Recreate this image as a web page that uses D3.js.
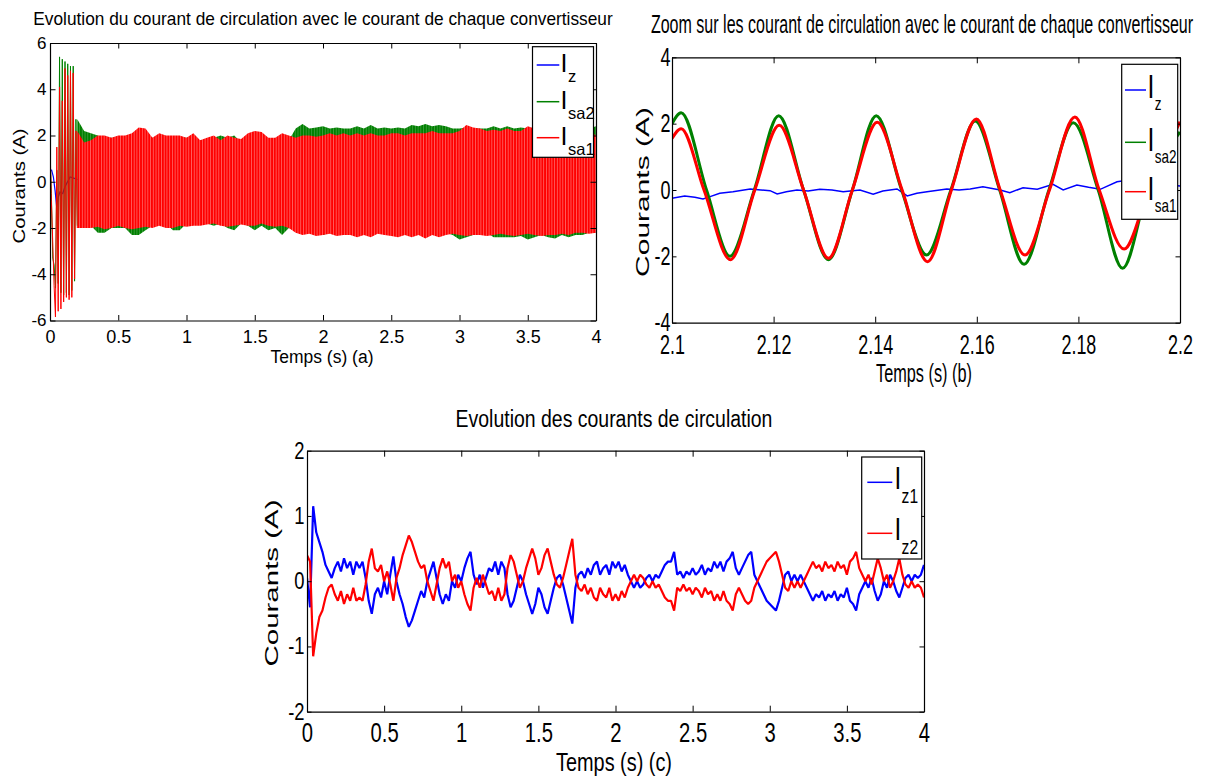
<!DOCTYPE html>
<html>
<head>
<meta charset="utf-8">
<script src="https://cdn.jsdelivr.net/npm/d3@7"></script>
<style>
  body { margin: 0; background: #fff; }
  svg text { font-family: "Liberation Sans", Arial, Helvetica, sans-serif; fill: #000; }
</style>
</head>
<body>
<script>
// ---------- panel (a) : full run, 0..4 s ----------
var aXTicks = [0, 0.5, 1, 1.5, 2, 2.5, 3, 3.5, 4];
var aYTicks = [-6, -4, -2, 0, 2, 4, 6];

// Iz (blue), mostly hidden behind the converter currents
var aIzT = [0, 0.012, 0.025, 0.037, 0.049, 0.061, 0.073, 0.093, 0.11, 0.122, 0.147, 0.2, 0.5, 1, 1.5, 2, 2.5, 3, 3.5, 4];
var aIzV = [0.45, 0.5, 0.2, -0.37, -1.09, -0.66, -0.44, -0.51, -0.22, -0.08, 0.21, 0.1, 0.05, 0, -0.05, 0, 0.05, 0, 0.1, 0.1];

// start-up transient, half-cycle extremes
var aTransT   = [0, 0.01, 0.02, 0.03, 0.04, 0.05, 0.06, 0.07, 0.08, 0.09, 0.1, 0.11, 0.12, 0.13, 0.14, 0.15, 0.16, 0.17, 0.18, 0.19, 0.2];
var aTransSa2 = [1.2, -0.5, -3.3, -3.6, -4.6, 0.5, -4.4, 5.4, -4.8, 5.3, -4.9, 5.2, -4.8, 5.1, -4.9, 5.0, -4.7, 5.0, -4.3, 2.7, -1.9];
var aTransSa1 = [1.6, -0.8, -2.6, -4.5, -5.85, 1.5, -5.6, 4.1, -5.5, 3.5, -5.2, 4.9, -5.0, 4.6, -5.1, 4.8, -5.0, 4.7, -4.2, 2.2, -2.0];

// steady state: envelope of the 50 Hz band, one value every 0.05 s from 0.2 s
var aEnvT = d3.range(77).map(function(i) { return +(0.2 + i * 0.05).toFixed(2); });
var aSa2Hi = [2.7, 2.2, 2.1, 2.0, 1.9, 1.9, 1.9, 1.8, 1.9, 1.8,
              1.8, 1.9, 1.9, 1.8, 1.9, 1.9, 1.9, 1.9, 1.8, 1.8,
              1.9, 2.0, 1.9, 2.0, 1.7, 1.8, 1.8, 1.8, 1.8, 1.8,
              1.9, 1.8, 2.3, 2.5, 2.3, 2.35, 2.4, 2.3, 2.35, 2.3,
              2.3, 2.4, 2.3, 2.45, 2.3, 2.35, 2.3, 2.35, 2.3, 2.45,
              2.4, 2.5, 2.4, 2.45, 2.4, 2.3, 2.3, 2.35, 2.3, 2.3,
              2.3, 2.4, 2.3, 2.4, 2.3, 2.35, 2.3, 2.35, 2.3, 2.35,
              2.3, 2.3, 2.3, 2.3, 2.3, 2.3, 2.4];
var aSa2Lo = [-1.9, -1.8, -1.9, -2.2, -2.2, -2.0, -2.0, -2.0, -2.3, -2.3,
              -2.1, -1.9, -1.8, -1.8, -2.1, -2.1, -1.8, -1.8, -1.7, -1.8,
              -1.9, -1.8, -2.0, -2.1, -1.8, -1.9, -2.1, -1.9, -2.1, -2.0,
              -2.3, -2.0, -2.1, -2.2, -2.2, -2.2, -2.3, -2.2, -2.3, -2.2,
              -2.3, -2.2, -2.2, -2.3, -2.2, -2.2, -2.2, -2.3, -2.2, -2.3,
              -2.2, -2.3, -2.2, -2.3, -2.2, -2.3, -2.5, -2.4, -2.3, -2.2,
              -2.2, -2.4, -2.4, -2.4, -2.4, -2.35, -2.5, -2.4, -2.3, -2.4,
              -2.45, -2.3, -2.4, -2.3, -2.3, -2.2, -2.2];
var aSa1Hi = [2.2, 1.7, 1.8, 2.0, 2.0, 1.9, 2.0, 2.0, 2.1, 2.35,
              2.3, 1.9, 2.1, 2.0, 2.0, 2.0, 1.9, 2.1, 1.8, 1.9,
              2.0, 1.8, 2.0, 1.9, 1.85, 2.1, 2.2, 2.15, 1.9, 1.9,
              2.1, 2.0, 1.9, 2.0, 2.0, 1.95, 2.0, 2.1, 2.0, 2.1,
              2.0, 2.1, 2.0, 2.1, 2.0, 2.0, 2.1, 2.1, 2.0, 2.1,
              2.1, 2.1, 2.2, 2.1, 2.1, 2.1, 2.2, 2.45, 2.35, 2.3,
              2.2, 2.25, 2.2, 2.3, 2.2, 2.2, 2.4, 2.3, 2.3, 2.2,
              2.3, 2.3, 2.2, 2.3, 2.2, 2.2, 2.0];
var aSa1Lo = [-2.0, -2.0, -2.0, -1.95, -2.05, -2.0, -1.9, -2.0, -2.05, -2.0,
              -1.95, -2.0, -1.9, -2.0, -2.0, -1.9, -1.95, -1.9, -1.9, -1.85,
              -1.8, -1.9, -1.95, -1.9, -1.85, -1.9, -1.9, -1.8, -1.9, -1.95,
              -1.9, -2.0, -2.2, -2.3, -2.25, -2.35, -2.3, -2.25, -2.35, -2.3,
              -2.3, -2.4, -2.3, -2.4, -2.25, -2.3, -2.35, -2.4, -2.3, -2.4,
              -2.3, -2.45, -2.3, -2.4, -2.3, -2.25, -2.3, -2.35, -2.3, -2.3,
              -2.35, -2.3, -2.25, -2.3, -2.35, -2.3, -2.25, -2.3, -2.35, -2.3,
              -2.3, -2.25, -2.3, -2.2, -2.2, -2.25, -2.2];

// ---------- panel (b) : zoom 2.1..2.2 s ----------
var bXTicks = [2.1, 2.12, 2.14, 2.16, 2.18, 2.2];
var bYTicks = [-4, -2, 0, 2, 4];
var bIzT = [2.1, 2.1025, 2.1045, 2.1061, 2.1075, 2.1094, 2.112, 2.1154, 2.1175, 2.1193,
            2.1207, 2.1225, 2.1246, 2.1268, 2.1291, 2.1315, 2.1337, 2.137, 2.1396, 2.1415,
            2.1443, 2.1463, 2.1482, 2.1502, 2.1541, 2.1565, 2.1587, 2.1612, 2.1646, 2.1665,
            2.1691, 2.1719, 2.175, 2.177, 2.1797, 2.182, 2.1843, 2.1876, 2.19, 2.195, 2.2];
var bIzV = [-0.25, -0.18, -0.22, -0.27, -0.2, -0.1, -0.05, 0.03, 0.0, -0.02,
            -0.12, -0.05, 0.0, -0.03, 0.02, 0.0, -0.05, 0.0, -0.13, -0.03,
            0.03, -0.18, -0.1, -0.05, 0.03, 0.0, 0.03, 0.1, 0.0, -0.08,
            0.07, 0.02, 0.17, 0.0, 0.15, 0.08, 0.02, 0.25, 0.3, 0.2, 0.12];
// peaks, troughs and zero crossings
var bSa2T = [2.1, 2.1018, 2.1068, 2.1114, 2.1162, 2.121, 2.1259, 2.1308, 2.1355, 2.1402, 2.1452,
             2.1501, 2.1549, 2.1597, 2.1645, 2.1693, 2.1742, 2.179, 2.1839, 2.1887, 2.1936, 2.2];
var bSa2V = [2.0, 2.33, 0, -2.0, 0, 2.24, 0, -2.1, 0, 2.24, 0,
             -1.96, 0, 2.08, 0, -2.24, 0, 2.03, 0, -2.36, 0, 1.75];
var bSa1T = [2.1, 2.1018, 2.1063, 2.1115, 2.1163, 2.1211, 2.1259, 2.1308, 2.1355, 2.1404, 2.1453,
             2.1503, 2.155, 2.1599, 2.1646, 2.1695, 2.1743, 2.1793, 2.1841, 2.189, 2.1938, 2.2];
var bSa1V = [1.55, 1.85, 0, -2.1, 0, 1.95, 0, -2.06, 0, 2.04, 0,
             -2.16, 0, 2.14, 0, -1.96, 0, 2.2, 0, -1.78, 0, 2.06];

// ---------- panel (c) : circulating currents, sampled every 0.02 s ----------
var cXTicks = [0, 0.5, 1, 1.5, 2, 2.5, 3, 3.5, 4];
var cYTicks = [-2, -1, 0, 1, 2];
var cT = d3.range(201).map(function(i) { return +(i * 0.02).toFixed(2); });
var cIz1 = [0.05, -0.4, 1.15, 0.75, 0.6, 0.45, 0.25, 0.15, 0.05, 0.2,
            0.3, 0.15, 0.35, 0.2, 0.3, 0.1, 0.3, 0.2, 0.3, 0.05,
            -0.3, -0.5, -0.2, -0.1, -0.25, 0.0, -0.2, 0.1, 0.38, 0.0,
            -0.2, -0.35, -0.55, -0.7, -0.6, -0.45, -0.3, -0.15, -0.25, 0.0,
            0.15, 0.3, 0.05, -0.2, -0.35, -0.2, -0.3, 0.0, -0.1, 0.1,
            0.0, 0.2, 0.35, 0.45, 0.1, -0.05, 0.1, -0.1, 0.05, 0.2,
            0.15, 0.3, 0.1, 0.3, 0.2, -0.2, -0.4, -0.3, -0.1, 0.1,
            0.0, -0.2, -0.35, -0.5, -0.35, -0.1, -0.2, -0.4, -0.5, -0.3,
            -0.1, 0.05, 0.1, -0.05, -0.25, -0.45, -0.65, -0.1, 0.1, 0.15,
            0.05, 0.2, 0.1, 0.25, 0.3, 0.1, 0.2, 0.25, 0.1, 0.3,
            0.2, 0.3, 0.15, 0.25, 0.1, 0.0, -0.1, 0.0, -0.1, -0.05,
            0.05, 0.1, 0.0, 0.1, 0.05, 0.15, 0.25, 0.3, 0.3, 0.45,
            0.1, 0.15, 0.05, 0.15, 0.1, 0.2, 0.1, 0.15, 0.25, 0.1,
            0.2, 0.15, 0.3, 0.2, 0.3, 0.15, 0.3, 0.35, 0.45, 0.2,
            0.1, 0.2, 0.3, 0.4, 0.45, 0.1, 0.0, -0.1, -0.2, -0.3,
            -0.35, -0.4, -0.45, -0.3, -0.1, 0.1, 0.15, 0.0, 0.1, 0.0,
            0.1, 0.0, -0.1, -0.2, -0.3, -0.2, -0.25, -0.15, -0.3, -0.2,
            -0.25, -0.15, -0.3, -0.2, -0.25, -0.1, -0.3, -0.35, -0.45, -0.2,
            -0.1, 0.0, -0.1, 0.05, -0.15, -0.3, -0.2, 0.0, -0.1, 0.1,
            0.0, -0.15, -0.25, -0.1, 0.05, 0.1, 0.0, 0.1, 0.05, 0.1,
            0.25];
var cIz2 = [0.4, 0.3, -1.15, -0.8, -0.55, -0.45, -0.25, -0.1, -0.05, -0.2,
            -0.3, -0.15, -0.35, -0.2, -0.3, -0.1, -0.3, -0.25, -0.3, -0.05,
            0.3, 0.5, 0.2, 0.15, 0.25, 0.0, 0.15, -0.05, -0.3, 0.05,
            0.2, 0.4, 0.55, 0.7, 0.6, 0.45, 0.3, 0.2, 0.25, 0.0,
            -0.15, -0.3, -0.05, 0.2, 0.35, 0.2, 0.3, 0.0, 0.1, -0.1,
            0.0, -0.2, -0.35, -0.45, -0.1, 0.05, -0.1, 0.1, -0.05, -0.2,
            -0.15, -0.3, -0.1, -0.3, -0.2, 0.2, 0.4, 0.3, 0.1, -0.1,
            0.0, 0.2, 0.35, 0.5, 0.35, 0.1, 0.2, 0.4, 0.5, 0.3,
            0.1, -0.05, -0.1, 0.05, 0.25, 0.45, 0.65, 0.1, -0.1, -0.15,
            -0.05, -0.2, -0.1, -0.25, -0.3, -0.1, -0.2, -0.25, -0.1, -0.3,
            -0.2, -0.3, -0.15, -0.25, -0.1, 0.0, 0.1, 0.0, 0.1, 0.05,
            -0.05, -0.1, 0.0, -0.1, -0.05, -0.15, -0.25, -0.3, -0.3, -0.45,
            -0.1, -0.15, -0.05, -0.15, -0.1, -0.2, -0.1, -0.15, -0.25, -0.1,
            -0.2, -0.15, -0.3, -0.2, -0.3, -0.15, -0.3, -0.35, -0.45, -0.2,
            -0.1, -0.2, -0.3, -0.35, -0.3, -0.1, 0.0, 0.1, 0.2, 0.3,
            0.35, 0.4, 0.45, 0.3, 0.1, -0.1, -0.15, 0.0, -0.1, 0.0,
            -0.1, 0.0, 0.1, 0.2, 0.3, 0.2, 0.25, 0.15, 0.3, 0.2,
            0.25, 0.15, 0.3, 0.2, 0.25, 0.1, 0.3, 0.35, 0.45, 0.2,
            0.1, 0.0, 0.1, -0.05, 0.15, 0.35, 0.2, 0.0, 0.1, -0.1,
            0.0, 0.15, 0.35, 0.1, -0.05, -0.1, 0.0, -0.1, -0.05, -0.1,
            -0.25];

var BLUE = "#0000ff", GREEN = "#008000", RED = "#ff0000";

var svg = d3.select("body").append("svg")
    .attr("width", 1207)
    .attr("height", 780);
var defs = svg.append("defs");

function zip(ts, vs) { return ts.map(function(t, i) { return [t, vs[i]]; }); }

// centred text, squeezed/stretched along its run to the width seen in the figure
function label(parent, str, x, y, o) {
  var t = parent.append("text")
      .attr("font-size", o.size)
      .attr("text-anchor", "middle")
      .text(str);
  var k = o.len / t.node().getComputedTextLength();
  t.attr("transform", "translate(" + x + "," + y + ")" + (o.rotate ? " rotate(-90)" : "") +
         " scale(" + k.toFixed(3) + ",1)");
  return t;
}

// a matlab-like box with ticks inside on all four sides
function panel(o) {
  var g = svg.append("g").attr("transform", "translate(" + o.left + "," + o.top + ")");
  var x = d3.scaleLinear().domain(o.xDomain).range([0, o.w]);
  var y = d3.scaleLinear().domain(o.yDomain).range([o.h, 0]);
  var fmt = function(d) { return String(d); };

  defs.append("clipPath").attr("id", o.id + "-clip")
    .append("rect").attr("width", o.w).attr("height", o.h);
  var plot = g.append("g").attr("clip-path", "url(#" + o.id + "-clip)");

  var bottom = g.append("g").attr("transform", "translate(0," + o.h + ")")
      .call(d3.axisBottom(x).tickValues(o.xTicks).tickFormat(fmt)
        .tickSizeInner(-o.xTick).tickSizeOuter(0).tickPadding(o.xPad));
  var left = g.append("g")
      .call(d3.axisLeft(y).tickValues(o.yTicks).tickFormat(fmt)
        .tickSizeInner(-o.yTick).tickSizeOuter(0).tickPadding(o.yPad / o.ySx));
  var top = g.append("g")
      .call(d3.axisTop(x).tickValues(o.xTicks).tickFormat("")
        .tickSizeInner(-o.xTick).tickSizeOuter(0));
  var right = g.append("g").attr("transform", "translate(" + o.w + ",0)")
      .call(d3.axisRight(y).tickValues(o.yTicks).tickFormat("")
        .tickSizeInner(-o.yTick).tickSizeOuter(0));

  [bottom, left, top, right].forEach(function(a) {
    a.attr("font-family", null).attr("font-size", null);
    a.selectAll("path.domain").attr("stroke", "#000").attr("stroke-width", 1.2);
    a.selectAll("line").attr("stroke", "#000").attr("stroke-width", 1);
  });
  bottom.selectAll("text").attr("font-size", o.xFont).attr("fill", "#000")
      .attr("transform", "scale(" + o.xSx + ",1)");
  left.selectAll("text").attr("font-size", o.yFont).attr("fill", "#000")
      .attr("transform", "scale(" + o.ySx + ",1)");

  return { g: g, plot: plot, x: x, y: y };
}

// legend entries are "I" with a smaller subscript, in one text element
function legend(o) {
  var lg = svg.append("g");
  lg.append("rect")
      .attr("x", o.x).attr("y", o.y).attr("width", o.w).attr("height", o.h)
      .attr("fill", "#fff").attr("stroke", "#000").attr("stroke-width", 1.2);
  o.items.forEach(function(it, i) {
    var ly = o.rows[i];
    lg.append("line")
        .attr("x1", o.lx1).attr("x2", o.lx2).attr("y1", ly).attr("y2", ly)
        .attr("stroke", it.color).attr("stroke-width", 1.5);
    var t = lg.append("text")
        .attr("transform", "translate(" + o.ix + "," + (ly + o.iDy) + ") scale(" + o.sx + ",1)");
    t.append("tspan").attr("font-size", o.iSize).text("I");
    t.append("tspan").attr("font-size", o.sSize)
        .attr("dx", o.sDx).attr("dy", o.sDy).text(it.sub);
  });
}

// ================= panel (a) =================
var A = panel({
  id: "a", left: 50, top: 43, w: 546, h: 277.5,
  xDomain: [0, 4], yDomain: [-6, 6], xTicks: aXTicks, yTicks: aYTicks,
  xTick: 5.5, yTick: 5.5, xPad: 9.5, yPad: 3.5,
  xFont: 18, yFont: 17, xSx: 1, ySx: 1
});

function stripes(id, base, light) {
  var p = defs.append("pattern").attr("id", id)
      .attr("patternUnits", "userSpaceOnUse").attr("width", 2.73).attr("height", 4);
  p.append("rect").attr("width", 2.73).attr("height", 4).attr("fill", base);
  p.append("rect").attr("x", 1.95).attr("width", 0.6).attr("height", 4).attr("fill", light);
}
stripes("redBand", RED, "#ff8c8c");
stripes("greenBand", GREEN, "#5aa85a");

var aLine = d3.line().x(function(d) { return A.x(d[0]); }).y(function(d) { return A.y(d[1]); });
var aArea = d3.area()
    .x(function(d) { return A.x(d[0]); })
    .y0(function(d) { return A.y(d[1]); })
    .y1(function(d) { return A.y(d[2]); });

A.plot.append("path").datum(zip(aIzT, aIzV)).attr("d", aLine)
    .attr("fill", "none").attr("stroke", BLUE).attr("stroke-width", 1.2);
A.plot.append("path").datum(zip(aTransT, aTransSa2)).attr("d", aLine)
    .attr("fill", "none").attr("stroke", GREEN).attr("stroke-width", 1);
A.plot.append("path").datum(zip(aTransT, aTransSa1)).attr("d", aLine)
    .attr("fill", "none").attr("stroke", RED).attr("stroke-width", 1);
A.plot.append("path")
    .datum(aEnvT.map(function(t, i) { return [t, aSa2Lo[i], aSa2Hi[i]]; }))
    .attr("d", aArea).attr("fill", "url(#greenBand)");
A.plot.append("path")
    .datum(aEnvT.map(function(t, i) { return [t, aSa1Lo[i], aSa1Hi[i]]; }))
    .attr("d", aArea).attr("fill", "url(#redBand)");

label(svg, "Evolution du courant de circulation avec le courant de chaque convertisseur", 323, 25, { size: 18, len: 580 });
label(svg, "Temps (s) (a)", 322, 363, { size: 18, len: 103 });
label(svg, "Courants (A)", 25, 186, { size: 17, len: 115, rotate: true });

legend({
  x: 532.5, y: 46.7, w: 61, h: 110.6,
  rows: [65, 101.7, 137.7], lx1: 536.7, lx2: 559.3,
  ix: 560.5, iDy: 6.8, iSize: 25, sx: 1,
  sDx: 0.5, sDy: 10, sSize: 16.5,
  items: [{ color: BLUE, sub: "z" }, { color: GREEN, sub: "sa2" }, { color: RED, sub: "sa1" }]
});

// ================= panel (b) =================
var B = panel({
  id: "b", left: 672, top: 57.3, w: 508, h: 265.4,
  xDomain: [2.1, 2.2], yDomain: [-4, 4], xTicks: bXTicks, yTicks: bYTicks,
  xTick: 6, yTick: 4.5, xPad: 11.5, yPad: 1.5,
  xFont: 28, yFont: 25, xSx: 0.64, ySx: 0.72
});

var bLine = d3.line().x(function(d) { return B.x(d[0]); }).y(function(d) { return B.y(d[1]); });
var bWave = d3.line().curve(d3.curveMonotoneX)
    .x(function(d) { return B.x(d[0]); }).y(function(d) { return B.y(d[1]); });

B.plot.append("path").datum(zip(bIzT, bIzV)).attr("d", bLine)
    .attr("fill", "none").attr("stroke", BLUE).attr("stroke-width", 1.5);
B.plot.append("path").datum(zip(bSa2T, bSa2V)).attr("d", bWave)
    .attr("fill", "none").attr("stroke", GREEN).attr("stroke-width", 3);
B.plot.append("path").datum(zip(bSa1T, bSa1V)).attr("d", bWave)
    .attr("fill", "none").attr("stroke", RED).attr("stroke-width", 3);

label(svg, "Zoom sur les courant de circulation avec le courant de chaque convertisseur", 922, 33, { size: 25, len: 542 });
label(svg, "Temps (s) (b)", 924, 382, { size: 26, len: 96 });
label(svg, "Courants  (A)", 649, 192, { size: 19, len: 170, rotate: true });

legend({
  x: 1121.7, y: 64.3, w: 56, h: 155,
  rows: [90, 142.3, 191.7], lx1: 1125, lx2: 1146,
  ix: 1147.5, iDy: 8.3, iSize: 33, sx: 0.75,
  sDx: 0.5, sDy: 12, sSize: 18,
  items: [{ color: BLUE, sub: "z" }, { color: GREEN, sub: "sa2" }, { color: RED, sub: "sa1" }]
});

// ================= panel (c) =================
var C = panel({
  id: "c", left: 307, top: 450.7, w: 617, h: 261,
  xDomain: [0, 4], yDomain: [-2, 2], xTicks: cXTicks, yTicks: cYTicks,
  xTick: 6, yTick: 4.5, xPad: 11, yPad: 2.5,
  xFont: 27, yFont: 23, xSx: 0.75, ySx: 0.8
});

var cLine = d3.line().x(function(d) { return C.x(d[0]); }).y(function(d) { return C.y(d[1]); });
C.plot.append("path").datum(zip(cT, cIz1)).attr("d", cLine)
    .attr("fill", "none").attr("stroke", BLUE).attr("stroke-width", 2.2)
    .attr("stroke-linejoin", "bevel");
C.plot.append("path").datum(zip(cT, cIz2)).attr("d", cLine)
    .attr("fill", "none").attr("stroke", RED).attr("stroke-width", 2.2)
    .attr("stroke-linejoin", "bevel");

label(svg, "Evolution des courants de circulation", 614, 427, { size: 23, len: 317 });
label(svg, "Temps (s) (c)", 614, 771, { size: 26, len: 116 });
label(svg, "Courants  (A)", 278, 583, { size: 19, len: 167, rotate: true });

legend({
  x: 861.7, y: 457, w: 60, h: 102,
  rows: [482.3, 533.3], lx1: 867.3, lx2: 892.3,
  ix: 894.5, iDy: 7, iSize: 31, sx: 0.78,
  sDx: 0.5, sDy: 14, sSize: 20,
  items: [{ color: BLUE, sub: "z1" }, { color: RED, sub: "z2" }]
});
</script>
</body>
</html>
